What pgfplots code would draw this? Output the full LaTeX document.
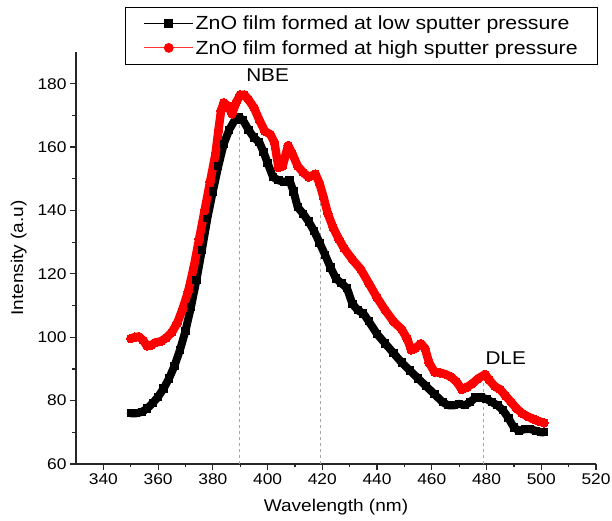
\documentclass[border=0pt]{standalone}
\usepackage{fontspec}
\setmainfont{Liberation Sans}[FakeStretch=1.12]
\usepackage{pgfplots}
\pgfplotsset{compat=1.18}

\definecolor{lowp}{HTML}{000000}
\definecolor{highp}{HTML}{FF0000}

\pgfplotstableread{
x y
350 76.0
352 76.0
354 76.4
356 77.5
358 79.2
360 81.2
362 83.8
364 87.0
366 91.0
368 96.0
370 102.0
372 109.5
374 118.0
376 127.5
378 137.5
380 146.0
382 154.0
384 161.0
386 165.5
388 168.5
389.5 169.5
391 168.5
393 165.5
395 163.0
397 161.5
398.5 158.5
400 155.0
402 150.5
404 149.5
406 149.0
408 149.5
409.5 146.0
411 141.0
413 139.0
415 136.5
417 133.5
419 129.8
421 126.0
423 122.0
425 118.5
427 117.0
429 115.5
431 110.5
433 108.5
435 107.5
437 105.0
440 101.0
443 98.0
446 95.0
449 92.0
452 89.5
455 87.0
458 84.5
461 82.0
464 79.5
466 78.5
468 78.5
470 79.0
472 78.5
474 79.5
476 81.0
478 81.0
480 80.5
482 79.5
484 78.5
486 77.0
488 74.5
490 71.5
492 70.5
494 71.0
496 71.0
498 70.5
500 70.0
501 70.0
}\lowtable

\pgfplotstableread{
x y
350 99.6
351.5 100.0
353 100.2
354.5 99.0
356 97.3
357.5 97.5
359 98.3
361 98.7
363 99.8
365 101.5
367 104.5
369 109.0
371 114.5
373 122.0
375 131.0
377 140.0
379 149.0
381 158.0
382 165.0
383 171.5
384 174.0
385.5 173.0
387 170.5
388.5 174.0
390 176.5
391.5 176.5
393 175.0
395 172.5
397 168.5
399 165.0
401 164.0
402.5 161.5
404 153.5
405.5 154.0
407.5 160.5
409 158.0
411 154.0
413 152.0
415 150.5
417.5 151.5
419 148.5
420.5 144.0
422 139.0
424 134.5
426 131.0
428 128.0
431 124.5
434 121.5
437 117.0
440 112.5
443 108.5
446 105.0
449 102.5
451 99.5
452.5 96.0
454 96.5
456 98.0
457.5 96.5
459 92.0
461 89.0
463 88.8
465 88.3
467 87.5
469 86.0
471 83.5
473 84.3
475 85.5
477 87.0
479.5 88.3
481 86.5
483 84.5
485 83.5
487 81.5
489 79.5
491 77.5
493 76.0
495 75.0
497 74.2
499 73.5
501 73.0
}\hightable

\begin{document}
\begin{tikzpicture}
\useasboundingbox (-76pt,-57pt) rectangle (536pt,464pt);
\begin{axis}[
    at={(0pt,0pt)}, anchor=south west,
    scale only axis,
    width=520pt, height=412pt,
    xmin=330, xmax=520,
    ymin=60, ymax=190,
    xtick={340,360,...,520},
    ytick={60,80,...,180},
    minor x tick num=1,
    minor y tick num=1,
    axis x line=bottom,
    axis y line=left,
    axis line style={-, line width=1.2pt, black!85},
    tick style={line width=1.2pt, black!85},
    tick align=outside,
    major tick length=6pt,
    minor tick length=3.5pt,
    /pgf/number format/assume math mode=true,
    /pgf/number format/1000 sep={},
    tick label style={font=\fontsize{15.5}{18}\selectfont},
    xlabel={Wavelength (nm)},
    ylabel={Intensity (a.u)},
    label style={font=\fontsize{17}{20}\selectfont},
    xlabel style={yshift=-8pt},
    ylabel style={yshift=4pt},
    clip=false,
    legend cell align=left,
    legend style={
        at={(axis description cs:1.004,1.109)}, anchor=north east,
        draw=black, line width=0.8pt,
        font=\fontsize{19}{21}\selectfont,
        inner xsep=18pt, inner ysep=6.5pt,
        row sep=5pt,
    },
    legend image code/.code={%
        \draw[mark repeat=2, mark phase=2, #1]
            plot coordinates {(0pt,0pt) (24.5pt,0pt) (49pt,0pt)};},
]

% guide lines at NBE, shoulder and DLE
\addplot[gray!70, dashed, line width=0.5pt, forget plot]
    coordinates {(389.7,60) (389.7,168)};
\addplot[gray!70, dashed, line width=0.5pt, forget plot]
    coordinates {(419.2,60) (419.2,150.5)};
\addplot[gray!70, dashed, line width=0.5pt, forget plot]
    coordinates {(478.9,60) (478.9,88.3)};

% spectra (dense markers -> thick band)
\addplot[lowp, line width=8pt, line join=round, line cap=round,
    mark=square*, mark size=3.6pt, mark options={line width=0pt}, forget plot]
    table[x=x, y=y] {\lowtable};
\addplot[highp, line width=8.5pt, line join=round, line cap=round,
    mark=*, mark size=4.3pt, mark options={line width=0pt}, forget plot]
    table[x=x, y=y] {\hightable};

\addlegendimage{lowp, line width=0.8pt, mark=square*, mark size=4pt}
\addlegendentry{ZnO film formed at low sputter pressure}
\addlegendimage{highp!80, line width=0.8pt, mark=*, mark size=4.5pt, mark options={fill=highp, draw=highp}}
\addlegendentry{ZnO film formed at high sputter pressure}

\node[font=\fontsize{18.5}{21}\selectfont] at (axis cs:400,182.6) {NBE};
\node[font=\fontsize{18.5}{21}\selectfont] at (axis cs:487,93.3) {DLE};

\end{axis}
\end{tikzpicture}
\end{document}
